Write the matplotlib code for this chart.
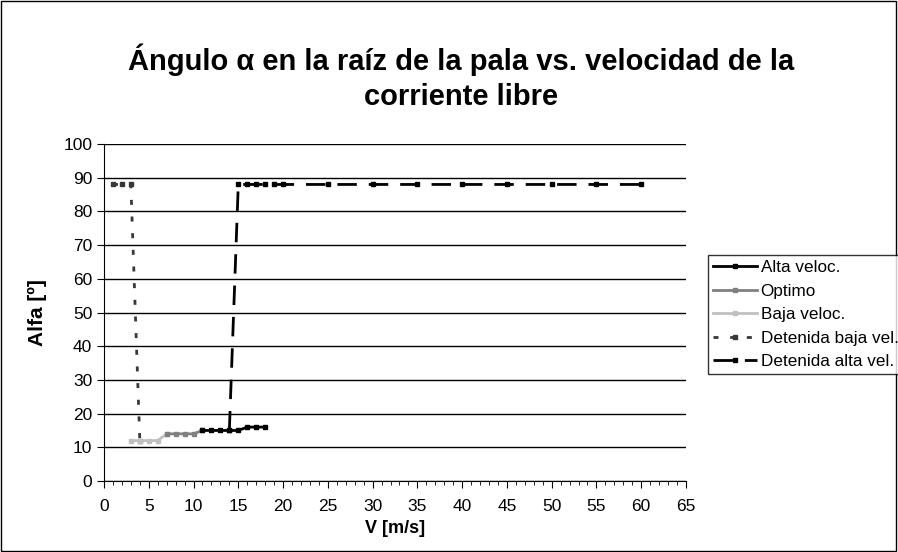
import matplotlib
matplotlib.use("Agg")
import matplotlib.pyplot as plt
from matplotlib.patches import Rectangle
from matplotlib.ticker import MultipleLocator

plt.rcParams['font.family'] = ['Liberation Sans', 'DejaVu Sans']

# datos
alta_x = [11, 12, 13, 14, 15, 16, 17, 18]
alta_y = [15, 15, 15, 15, 15, 16, 16, 16]

optimo_x = [7, 8, 9, 10, 11]
optimo_y = [14, 14, 14, 14, 15]

baja_x = [3, 4, 5, 6, 7]
baja_y = [12, 12, 12, 12, 14]

det_baja_x = [1, 2, 3, 4]
det_baja_y = [88, 88, 88, 12]

det_alta_x = [14, 15, 16, 17, 18, 19, 20, 25, 30, 35, 40, 45, 50, 55, 60]
det_alta_y = [15, 88, 88, 88, 88, 88, 88, 88, 88, 88, 88, 88, 88, 88, 88]

fig = plt.figure(figsize=(8.98, 5.52), dpi=100)
fig.patches.append(Rectangle((0.001, 0.002), 0.997, 0.996, transform=fig.transFigure,
                             fill=False, edgecolor="black", linewidth=1))

ax = fig.add_axes([0.1158, 0.1286, 0.6481, 0.6105])

ms = 3.5
ax.plot(det_baja_x, det_baja_y, color="#383838", linestyle=(0, (1.8, 4.2)), linewidth=2,
        marker="s", markersize=ms, label="Detenida baja vel.", zorder=3)
ax.plot(det_alta_x, det_alta_y, color="black", linestyle=(0, (7, 4.3)), linewidth=2,
        marker="s", markersize=ms, label="Detenida alta vel.", zorder=3)
ax.plot(baja_x, baja_y, color="#c0c0c0", linewidth=2, marker="s", markersize=ms,
        label="Baja veloc.", zorder=4)
ax.plot(optimo_x, optimo_y, color="#808080", linewidth=2, marker="s", markersize=ms,
        label="Optimo", zorder=4)
ax.plot(alta_x, alta_y, color="black", linewidth=2, marker="s", markersize=ms,
        label="Alta veloc.", zorder=5)

ax.set_xlim(0, 65)
ax.set_ylim(0, 100)
ax.xaxis.set_major_locator(MultipleLocator(5))
ax.xaxis.set_minor_locator(MultipleLocator(1))
ax.yaxis.set_major_locator(MultipleLocator(10))
ax.yaxis.grid(True, color="black", linewidth=1)
ax.set_axisbelow(True)
for s in ["top", "right"]:
    ax.spines[s].set_visible(False)
ax.tick_params(axis="both", which="major", labelsize=12.5, length=5, direction="out")
ax.tick_params(axis="x", which="major", pad=8)
ax.tick_params(axis="x", which="minor", length=3, direction="out")

ax.set_xlabel("V [m/s]", fontsize=13, fontweight="bold", labelpad=4)
ax.set_ylabel("Alfa [º]", fontsize=15, fontweight="bold", labelpad=12)

fig.text(0.513, 0.86, "Ángulo α en la raíz de la pala vs. velocidad de la\ncorriente libre",
         ha="center", va="center", fontsize=21, fontweight="bold", linespacing=1.3)

handles, labels = ax.get_legend_handles_labels()
orden = [4, 3, 2, 0, 1]
leg = fig.legend([handles[i] for i in orden], [labels[i] for i in orden],
                 loc="upper left", bbox_to_anchor=(0.788, 0.538), fontsize=12.3,
                 frameon=True, fancybox=False, edgecolor="black", handlelength=2.6,
                 handletextpad=0.2, borderpad=0.3, labelspacing=0.5, borderaxespad=0)
leg.get_frame().set_linewidth(1)

fig.savefig("out.png", dpi=100)
